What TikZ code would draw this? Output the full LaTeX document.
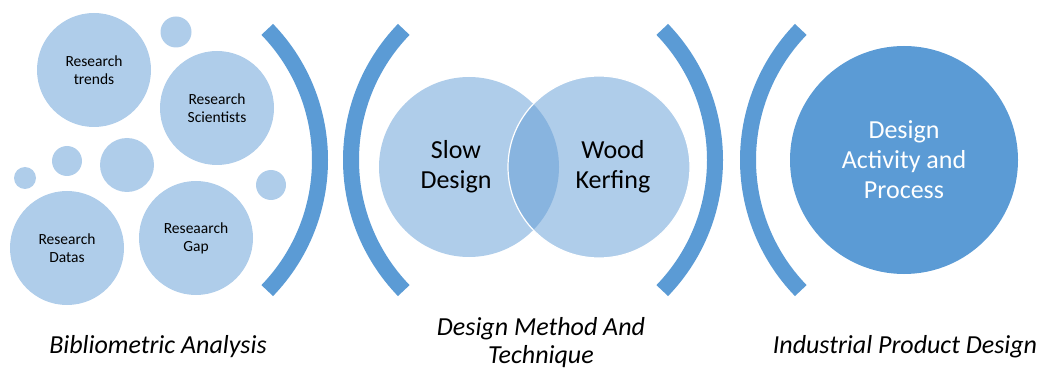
\documentclass[tikz,border=0pt]{standalone}
\usepackage{fontspec}
\setmainfont{Carlito}
\definecolor{arcblue}{HTML}{5B9BD5}
\definecolor{lightblue}{HTML}{AFCDEA}
\definecolor{midblue}{HTML}{88B4DF}
\begin{document}
\begin{tikzpicture}[x=1pt,y=-1pt,
		bubble/.style={circle,fill=lightblue,inner sep=0pt,minimum size=#1,align=center,font=\fontsize{15.5}{18}\selectfont},
		bracket/.style={draw=arcblue,line width=16pt},
		big/.style={align=center,font=\fontsize{26}{30}\selectfont},
		caption/.style={align=center,font=\fontsize{26}{28}\selectfont\itshape}]
		\useasboundingbox (0,0) rectangle (1043,371);

		% bibliometric bubbles
		\node[bubble=114pt] (trends) at (94,70) {Research\\trends};
		\node[bubble=114pt] (scientists) at (217,108) {Research\\Scientists};
		\node[bubble=114pt] (datas) at (67,248) {Research\\Datas};
		\node[bubble=114pt] (gap) at (196,238) {Reseaarch\\Gap};
		\foreach \cx/\cy/\d [count=\i] in {176/32/31, 25/178/22, 67/161/30, 127/165/54, 271/185/30}
		\node[bubble=\d pt] (dot\i) at (\cx,\cy) {};

		% brackets
		\foreach \cx/\a/\b [count=\i] in {132/44/-44, 539/136/224, 527/44/-44, 936/136/224}
		{
		\coordinate (arc\i) at (\cx,160);
		\draw[bracket] ([shift={(\a:188pt)}]arc\i) arc[start angle=\a,end angle=\b,radius=188pt];
		}

		% venn
		\node[bubble=180pt] (slow) at (469,167) {};
		\node[bubble=182pt] (wood) at (599,167) {};
		\begin{scope}
		\clip (slow.center) circle[radius=90pt];
		\fill[midblue] (wood.center) circle[radius=91pt];
		\end{scope}
		\draw[white,line width=1.2pt] (wood.center) circle[radius=91pt];
		\node[big] (slowtxt) at (456,167) {Slow\\Design};
		\node[big] (woodtxt) at (613,167) {Wood\\Kerfing};

		% product design
		\node[circle,fill=arcblue,minimum size=228pt,inner sep=0pt,big,text=white] (process) at (904,160) {Design\\Activity and\\Process};

		\node[caption] (biblio) at (158,347) {Bibliometric Analysis};
		\node[caption] (method) at (541,343) {Design Method And\\Technique};
		\node[caption] (industrial) at (905,347) {Industrial Product Design};
	\end{tikzpicture}
\end{document}
